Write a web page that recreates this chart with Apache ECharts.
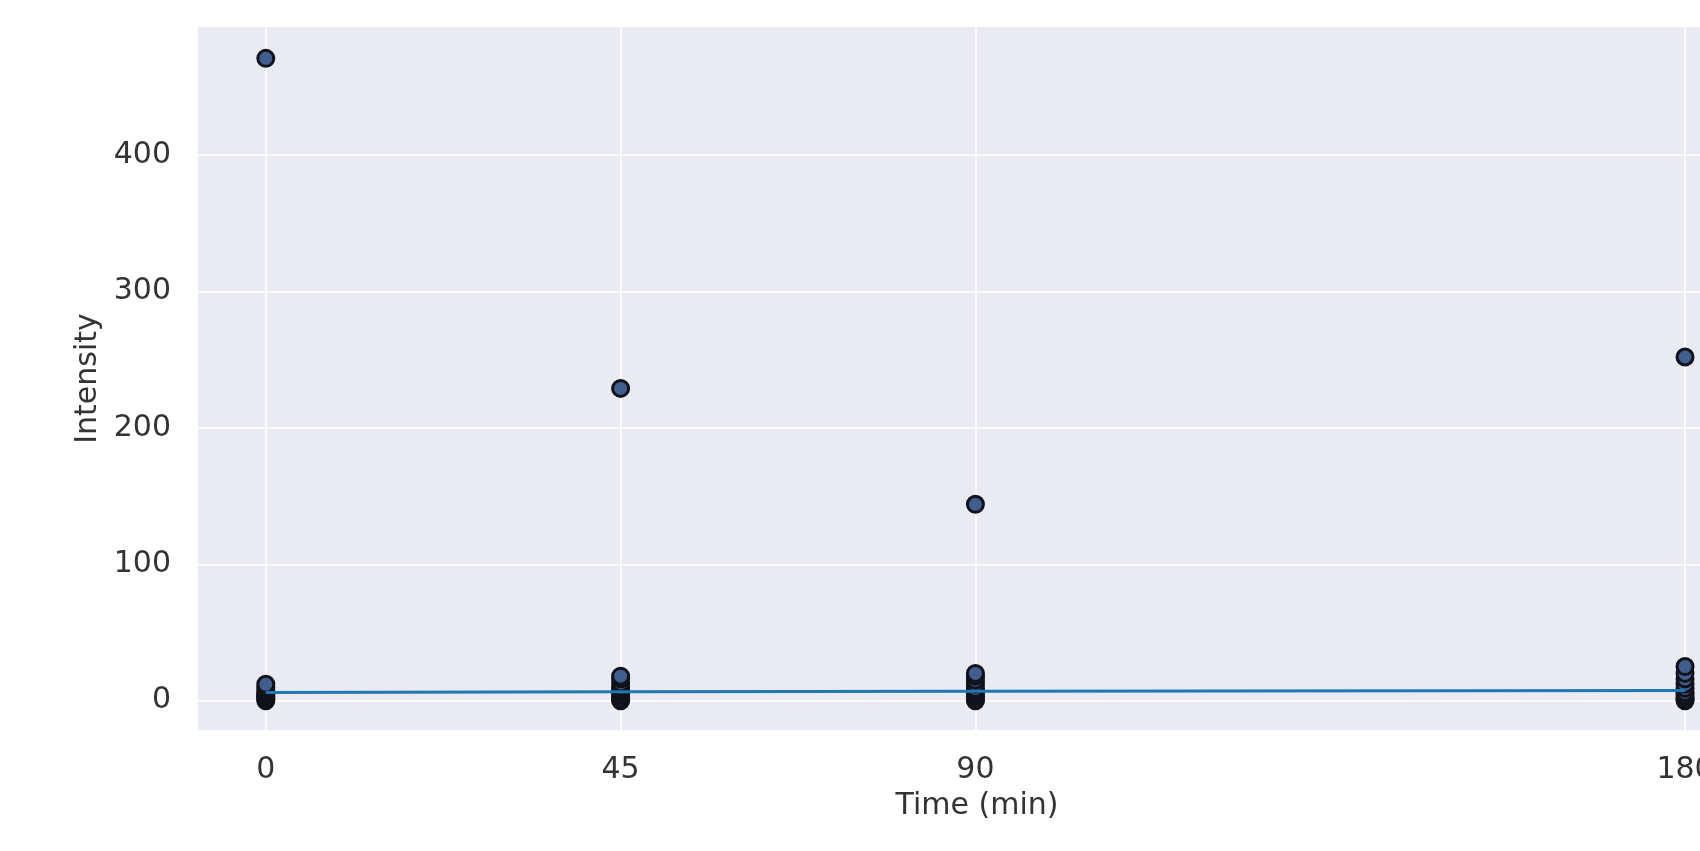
<!DOCTYPE html>
<html>
<head>
<meta charset="utf-8">
<script src="https://cdn.jsdelivr.net/npm/echarts@6/dist/echarts.min.js"></script>
<style>
html,body{margin:0;padding:0;background:#fff;}
#chart{width:1700px;height:851px;}
</style>
</head>
<body>
<div id="chart"></div>
<script>
// Data
const xTicks = [0, 45, 90, 180];
const yTicks = [0, 100, 200, 300, 400];
const times = [0, 45, 90, 180];
const intensity0 = [0, 1, 2, 3, 4, 5, 6, 8, 10, 12, 471];
const intensity45 = [0, 1, 2, 4, 6, 8, 10, 13, 16, 18, 229];
const intensity90 = [0, 1, 3, 5, 7, 9, 12, 15, 18, 20, 144];
const intensity180 = [0, 1, 2, 4, 6, 9, 12, 16, 20, 25, 252];
const trendValues = [6, 6.5, 7, 7.5];

const groups = [intensity0, intensity45, intensity90, intensity180];
const scatterData = [];
groups.forEach((g, i) => g.forEach(v => scatterData.push([times[i], v])));
const lineData = times.map((t, i) => [t, trendValues[i]]);

const font = 'DejaVu Sans';
const chart = echarts.init(document.getElementById('chart'));
chart.setOption({
  backgroundColor: '#ffffff',
  animation: false,
  grid: {left: 198, top: 27, right: -56, bottom: 121, backgroundColor: '#eaeaf2', show: true, borderWidth: 0,
         outerBoundsMode: 'none', containLabel: false},
  xAxis: {
    type: 'value', min: -8.6, max: 189,
    name: 'Time (min)', nameLocation: 'middle', nameGap: 61,
    nameTextStyle: {fontFamily: font, fontSize: 30, color: '#333'},
    axisLine: {show: false},
    axisTick: {show: false, customValues: xTicks},
    axisLabel: {customValues: xTicks, fontFamily: font, fontSize: 30, color: '#333', margin: 25},
    splitLine: {show: true, lineStyle: {color: '#ffffff', width: 1.6}}
  },
  yAxis: {
    type: 'value', min: -21.5, max: 494,
    name: 'Intensity', nameLocation: 'middle', nameGap: 94,
    nameTextStyle: {fontFamily: font, fontSize: 30, color: '#333'},
    axisLine: {show: false},
    axisTick: {show: false, customValues: yTicks},
    axisLabel: {customValues: yTicks, fontFamily: font, fontSize: 30, color: '#333', margin: 27},
    splitLine: {show: true, lineStyle: {color: '#ffffff', width: 1.6}}
  },
  series: [
    {
      type: 'scatter', data: scatterData, symbolSize: 16, z: 2,
      itemStyle: {color: '#415e8e', borderColor: '#12121a', borderWidth: 3, opacity: 1}
    },
    {
      type: 'line', data: lineData, showSymbol: false, z: 3,
      lineStyle: {color: '#1f77b4', width: 3}
    }
  ]
});
</script>
</body>
</html>
